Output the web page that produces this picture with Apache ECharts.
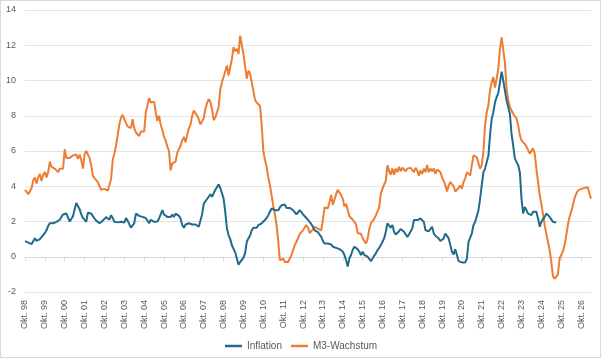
<!DOCTYPE html>
<html><head><meta charset="utf-8">
<script src="https://cdn.jsdelivr.net/npm/echarts@6/dist/echarts.min.js"></script>
<style>
html,body{margin:0;padding:0;background:#fff}
#c{position:absolute;left:0;top:0;width:602px;height:360px}
#f{position:absolute;left:0;top:0;width:601px;height:358px;box-sizing:border-box;border:1px solid #d9d9d9;pointer-events:none}
</style>
</head><body><div id="c"></div><div id="f"></div>
<script>
// Monthly data from Oct 1998
const startYear = 1998, startMonth = 9; // October (0-based)
const monthNames = ['Jan.','Feb.','Mär.','Apr.','Mai','Jun.','Jul.','Aug.','Sep.','Okt.','Nov.','Dez.'];
const nMonths = 343; // Oct 98 .. Apr 27
const categories = [];
for (let i = 0; i < nMonths; i++) {
  const mm = (startMonth + i) % 12;
  const yy = startYear + Math.floor((startMonth + i) / 12);
  categories.push(monthNames[mm] + ' ' + String(yy % 100).padStart(2, '0'));
}
const seriesNames = ['Inflation', 'M3-Wachstum'];

const inflation = [
0.89,0.85,0.8,0.75,0.72,0.7,1.05,0.9,0.92,1.0,
1.1,1.23,1.35,1.5,1.75,1.9,1.98,1.9,1.8,1.98,
2.05,2.1,2.26,2.4,2.45,2.45,2.45,2.0,1.98,2.3,
2.7,3.05,2.95,2.7,2.4,2.2,2.1,1.98,2.5,2.5,
2.45,2.35,2.17,2.05,1.95,1.9,1.95,2.05,2.1,2.25,
2.26,2.1,2.36,2.2,1.98,1.9,1.95,1.9,1.98,1.97,
1.94,2.2,2.05,1.98,1.65,1.7,1.9,2.45,2.36,2.32,
2.36,2.26,2.36,2.2,2.17,1.9,2.1,2.1,1.98,2.08,
2.0,2.17,2.26,2.64,2.4,2.3,2.26,2.36,2.26,2.4,
2.26,2.45,2.5,2.32,2.17,1.8,1.64,1.83,1.8,1.9,
1.9,1.83,1.9,1.83,1.8,1.7,1.8,2.4,3.0,3.15,
3.2,3.4,3.55,3.4,3.35,3.8,3.95,4.1,3.9,3.6,
3.3,2.55,1.6,1.23,1.0,0.65,0.45,0.25,-0.1,-0.45,
-0.3,-0.28,-0.05,0.2,0.85,1.04,1.2,1.5,1.65,1.57,
1.64,1.8,1.75,1.9,1.98,2.08,2.2,2.36,2.55,2.74,
2.77,2.64,2.55,2.64,2.8,2.92,3.0,2.96,2.77,2.74,
2.77,2.7,2.64,2.55,2.4,2.45,2.64,2.55,2.4,2.36,
2.2,2.1,1.98,1.85,1.7,1.5,1.55,1.4,1.25,1.13,
0.9,0.75,0.85,0.75,0.66,0.7,0.57,0.62,0.5,0.47,
0.43,0.38,0.3,0.1,-0.2,-0.55,-0.1,0.1,0.38,0.57,
0.5,0.43,0.28,0.1,0.28,0.1,0.13,0.0,-0.1,-0.25,
-0.1,0.06,0.19,0.38,0.5,0.66,0.85,1.04,1.42,1.9,
1.83,1.64,1.8,1.42,1.26,1.32,1.45,1.57,1.5,1.42,
1.32,1.13,1.26,1.23,1.6,2.08,2.17,2.08,2.13,2.17,
2.26,1.98,1.5,1.42,1.45,1.42,1.7,1.32,1.19,1.23,
1.04,0.89,0.85,1.04,1.32,1.23,1.04,0.66,0.28,0.13,
0.43,0.1,-0.25,-0.32,-0.32,-0.32,-0.32,-0.1,0.85,0.94,
1.32,1.8,1.98,1.98,2.64,3.3,4.06,4.8,5.0,5.1,
5.75,6.9,7.83,8.2,8.77,9.06,9.3,9.9,10.5,10.0,
9.43,8.87,8.5,8.1,6.95,6.3,5.57,5.38,5.2,4.8,
3.3,2.45,2.83,2.64,2.45,2.36,2.36,2.55,2.55,2.55,
2.17,1.7,1.98,2.08,2.26,2.45,2.36,2.26,2.17,1.98,
1.9,1.94
];

const m3 = [
3.8,3.75,3.55,3.5,3.9,4.35,4.5,4.15,4.5,4.7,
4.3,4.65,4.8,4.5,4.8,5.4,5.1,5.0,5.0,4.9,
4.8,5.0,5.0,5.0,6.1,5.6,5.55,5.6,5.6,5.75,
5.8,5.8,5.55,5.8,5.5,5.0,5.8,6.0,5.9,5.6,
5.2,4.6,4.45,4.45,4.25,4.0,3.8,3.9,3.85,3.8,
3.75,3.7,4.4,5.5,5.85,6.3,6.9,7.5,7.9,8.05,
7.95,7.6,7.4,7.3,7.3,7.8,7.3,7.05,7.1,6.85,
7.1,7.05,7.1,8.2,8.25,9.0,8.75,8.7,8.8,8.2,
7.7,8.0,7.5,7.2,6.8,6.6,6.25,6.0,4.9,5.3,
5.4,5.4,5.9,5.85,6.3,6.6,6.8,6.5,6.9,7.3,
7.5,8.0,8.3,8.2,8.0,7.8,7.5,7.4,7.85,8.4,
8.7,8.95,8.8,8.4,7.75,7.9,8.2,8.5,9.5,9.9,
10.2,10.3,10.85,10.3,10.4,11.2,11.9,11.65,11.8,11.5,
12.55,12.5,11.5,11.5,10.1,10.55,10.4,9.9,9.4,8.9,
8.75,8.65,8.55,7.5,6.0,5.5,5.1,4.5,4.05,3.5,
2.9,2.4,1.8,0.9,-0.2,-0.3,-0.1,-0.3,-0.2,-0.3,
-0.1,0.1,0.15,0.65,0.75,1.05,1.3,1.25,1.5,1.6,
1.8,1.65,1.35,1.3,1.55,1.7,1.6,1.6,1.5,1.5,
2.1,2.8,2.75,2.75,3.1,3.5,2.95,2.85,3.55,3.8,
3.7,3.5,3.3,2.85,3.0,2.65,2.3,2.35,2.1,2.0,
1.85,1.35,1.25,1.3,1.05,1.05,0.75,1.0,1.55,1.9,
1.95,2.15,2.35,2.45,2.8,3.6,3.85,4.1,4.3,5.2,
4.85,4.65,5.0,4.65,5.0,4.8,5.1,4.85,5.05,5.1,
4.85,5.0,4.95,5.05,5.0,4.8,5.05,4.9,4.6,4.9,
4.7,5.0,4.8,5.2,4.8,5.0,4.85,5.0,4.7,4.95,
4.9,4.8,4.5,4.3,4.05,3.7,4.05,4.25,4.3,4.0,
3.7,3.8,3.9,4.05,3.85,4.25,4.45,4.8,4.9,4.6,
5.2,5.75,5.8,5.65,5.55,5.0,5.2,6.0,7.45,8.2,
8.6,9.45,9.9,10.2,9.6,10.1,10.7,11.8,12.45,12.4,
11.0,9.5,8.9,8.5,8.3,8.1,8.0,7.85,7.45,6.9,
6.6,6.5,6.4,6.25,6.05,5.85,5.95,6.15,5.85,5.0,
4.25,3.5,3.0,2.4,1.8,1.3,0.85,0.4,-0.3,-1.1,
-1.25,-1.15,-1.0,-0.1,0.1,0.3,0.65,1.2,1.8,2.25,
2.55,2.9,3.3,3.55,3.75,3.7,3.85,3.85,3.9,3.8,
3.95,3.6,3.3
];

const colors = ['#1f6b8c', '#ee7d33'];
const fontFam = '"Liberation Sans", Arial, sans-serif';
const chart = echarts.init(document.getElementById('c'), null, {renderer: 'canvas'});
chart.setOption({
  animation: false,
  backgroundColor: 'transparent',
  color: colors,
  textStyle: {fontFamily: fontFam},
  grid: {left: 25, right: 11, top: 10, bottom: 68, containLabel: false},
  legend: {
    data: seriesNames, top: 336, left: 'center',
    icon: 'rect', itemWidth: 17, itemHeight: 2.5, itemGap: 9,
    textStyle: {fontSize: 10, color: '#595959', fontFamily: fontFam}
  },
  xAxis: [{
    type: 'category', data: categories, boundaryGap: false, position: 'bottom',
    axisLine: {show: false, onZero: false},
    axisTick: {show: false},
    axisLabel: {interval: 11, rotate: 90, margin: 8, fontSize: 9, color: '#595959', fontFamily: fontFam},
    splitLine: {show: false}
  }, {
    type: 'category', data: categories, boundaryGap: false, position: 'top',
    axisLine: {show: true, onZero: true, lineStyle: {color: '#d9d9d9', width: 1}},
    axisTick: {show: true, interval: 11, inside: true, length: 4, lineStyle: {color: '#d9d9d9'}},
    axisLabel: {show: false},
    splitLine: {show: false}
  }],
  yAxis: {
    type: 'value', min: -2, max: 14, interval: 2,
    axisLine: {show: false}, axisTick: {show: false},
    axisLabel: {fontSize: 9, color: '#595959', margin: 9, fontFamily: fontFam},
    splitLine: {lineStyle: {color: '#e3e3e3', width: 1}}
  },
  series: [
    {name: seriesNames[0], type: 'line', data: inflation, symbol: 'none', lineStyle: {width: 2, color: colors[0]}, itemStyle: {color: colors[0]}, z: 3},
    {name: seriesNames[1], type: 'line', data: m3, symbol: 'none', lineStyle: {width: 2, color: colors[1]}, itemStyle: {color: colors[1]}, z: 2}
  ]
});
</script></body></html>
